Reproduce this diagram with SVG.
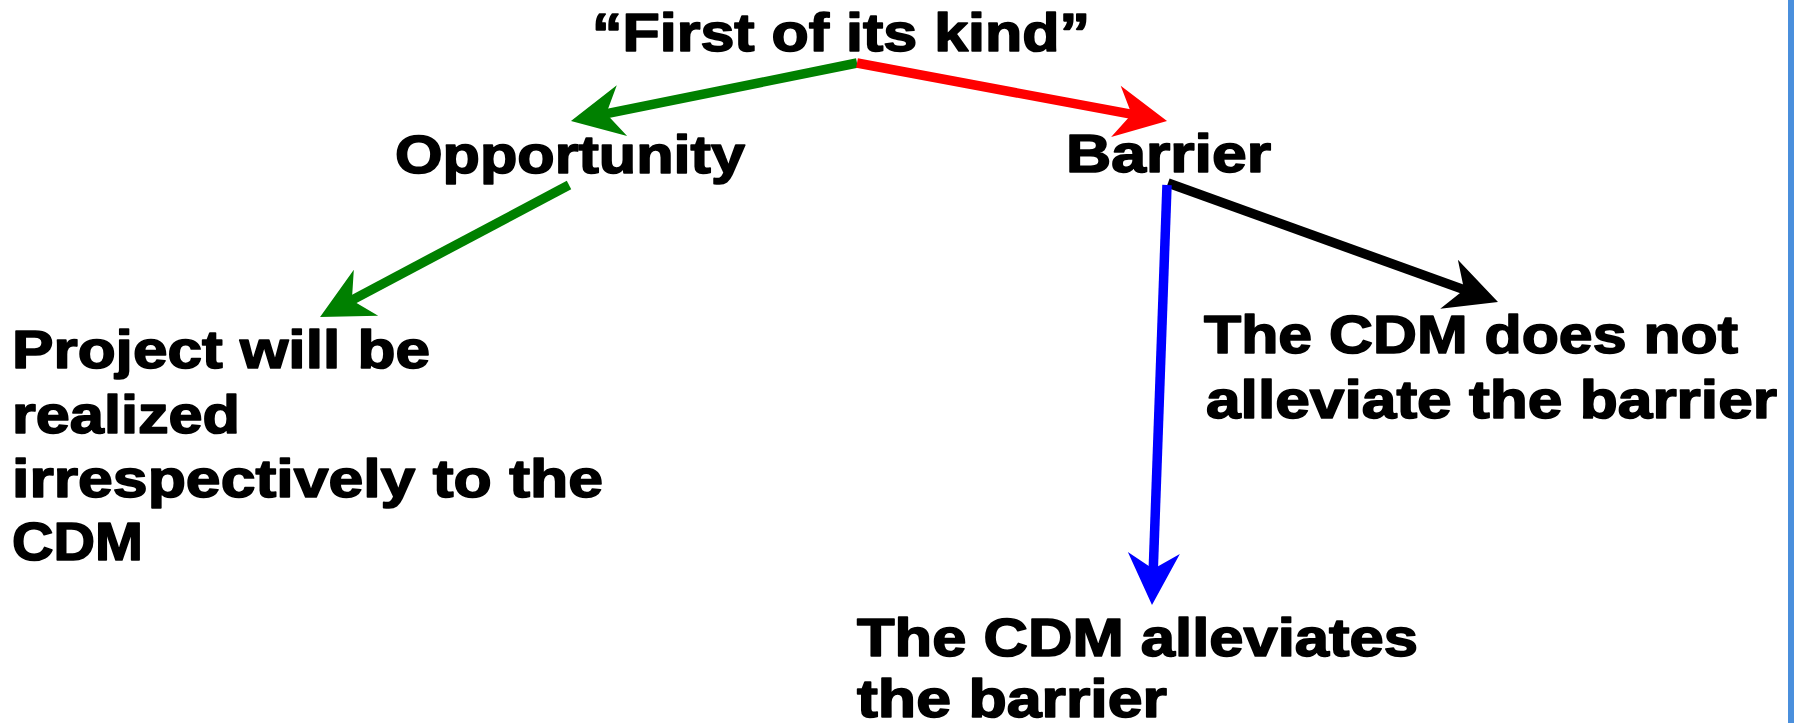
<svg xmlns="http://www.w3.org/2000/svg" width="1794" height="723" viewBox="0 0 1794 723">
  <style>
    .t { font-family: "Liberation Sans", Arial, sans-serif; font-weight: bold; font-size: 53px; fill: #000; stroke: #000; stroke-width: 1.6; stroke-linejoin: round; }
    .c { fill: none; stroke-width: 9.5; stroke-linecap: butt; }
  </style>
  <defs>
    <marker id="ahG" markerUnits="userSpaceOnUse" markerWidth="120" markerHeight="120" refX="0" refY="0" orient="auto" overflow="visible">
      <path d="M34,0 L-18,-26 L-2,0 L-18,26 Z" fill="#008000"/>
    </marker>
    <marker id="ahR" markerUnits="userSpaceOnUse" markerWidth="120" markerHeight="120" refX="0" refY="0" orient="auto" overflow="visible">
      <path d="M34,0 L-18,-26 L-2,0 L-18,26 Z" fill="#ff0000"/>
    </marker>
    <marker id="ahK" markerUnits="userSpaceOnUse" markerWidth="120" markerHeight="120" refX="0" refY="0" orient="auto" overflow="visible">
      <path d="M34,0 L-18,-26 L-2,0 L-18,26 Z" fill="#000000"/>
    </marker>
    <marker id="ahB" markerUnits="userSpaceOnUse" markerWidth="120" markerHeight="120" refX="0" refY="0" orient="auto" overflow="visible">
      <path d="M34,0 L-18,-26 L-2,0 L-18,26 Z" fill="#0000ff"/>
    </marker>
  </defs>
  <rect x="0" y="0" width="1794" height="723" fill="#ffffff"/>
  <rect x="1788" y="0" width="6" height="723" fill="#4a8fdc"/>

  <g id="connectors">
    <line class="c" x1="857" y1="63" x2="604.3" y2="114.2" stroke="#008000" marker-end="url(#ahG)"/>
    <line class="c" x1="857" y1="63" x2="1133.6" y2="114.7" stroke="#ff0000" marker-end="url(#ahR)"/>
    <line class="c" x1="569" y1="185" x2="350.1" y2="301.1" stroke="#008000" marker-end="url(#ahG)"/>
    <line class="c" x1="1168" y1="183" x2="1466" y2="290.4" stroke="#000000" marker-end="url(#ahK)"/>
    <line class="c" x1="1167" y1="185" x2="1153.2" y2="571" stroke="#0000ff" marker-end="url(#ahB)"/>
  </g>

  <g id="node-first">
    <text class="t" x="592" y="51" textLength="498" lengthAdjust="spacingAndGlyphs">“First of its kind”</text>
  </g>
  <g id="node-opportunity">
    <text class="t" x="395" y="173" textLength="350" lengthAdjust="spacingAndGlyphs">Opportunity</text>
  </g>
  <g id="node-barrier">
    <text class="t" x="1066" y="172" textLength="205" lengthAdjust="spacingAndGlyphs">Barrier</text>
  </g>
  <g id="node-project">
    <text class="t" x="12" y="368" textLength="418" lengthAdjust="spacingAndGlyphs">Project will be</text>
    <text class="t" x="12" y="433" textLength="228" lengthAdjust="spacingAndGlyphs">realized</text>
    <text class="t" x="12" y="497" textLength="591" lengthAdjust="spacingAndGlyphs">irrespectively to the</text>
    <text class="t" x="12" y="560" textLength="131" lengthAdjust="spacingAndGlyphs">CDM</text>
  </g>
  <g id="node-not-alleviate">
    <text class="t" x="1204" y="353" textLength="534" lengthAdjust="spacingAndGlyphs">The CDM does not</text>
    <text class="t" x="1206" y="418" textLength="571" lengthAdjust="spacingAndGlyphs">alleviate the barrier</text>
  </g>
  <g id="node-alleviates">
    <text class="t" x="857" y="656" textLength="561" lengthAdjust="spacingAndGlyphs">The CDM alleviates</text>
    <text class="t" x="857" y="717" textLength="310" lengthAdjust="spacingAndGlyphs">the barrier</text>
  </g>
</svg>
